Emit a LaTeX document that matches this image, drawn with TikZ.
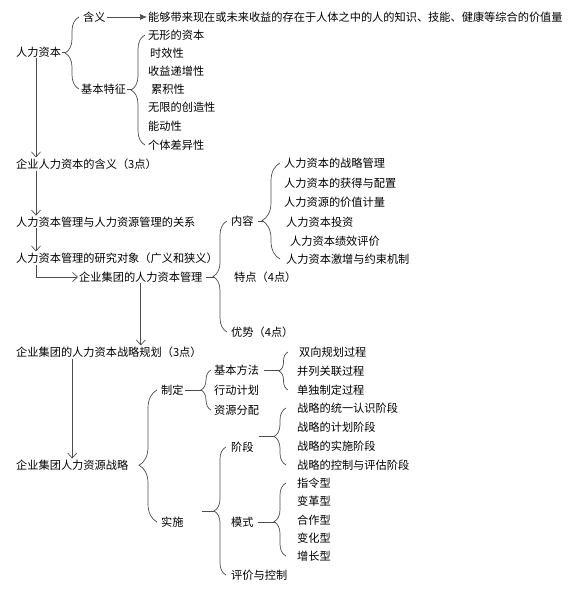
\documentclass[tikz,border=0pt]{standalone}
\usepackage{fontspec}
\setmainfont{Noto Sans CJK SC}
\usetikzlibrary{arrows.meta}
\usetikzlibrary{decorations.pathreplacing}
\definecolor{lgray}{rgb}{0.3, 0.3, 0.3}
\tikzset{txt/.style = {anchor=west, inner sep=1pt, font=\fontsize{11.2}{13}\selectfont}}
\tikzset{ln/.style = {draw=lgray, line width=0.7pt}}
\tikzset{arr/.style = {ln, -{Straight Barb[length=5pt, width=9pt]}}}
\tikzset{darr/.style = {ln, -{Latex[length=7pt, width=6pt]}}}
\tikzset{brc/.style = {ln, decorate, decoration={brace, amplitude=#1}}, brc/.default=9pt}

\begin{document}
\begin{tikzpicture}[x=1pt, y=-1pt]
    \useasboundingbox (0, 0) rectangle (583, 593);

    % columns for the main arrows and the braces
    \coordinate (ax) at (36, 0);
    \foreach \n/\x in {b1/79, b2/145, b3/227, b4/280, b5/157, b6/211, b7/288, b8/226, b9/286, b10/286}
        \coordinate (\n) at (\x, 0);

    \node [txt] (hc) at (15, 52) {人力资本};
    \node [txt] (hy) at (82, 17) {含义};
    \node [txt] (dy) at (147, 17) {能够带来现在或未来收益的存在于人体之中的人的知识、技能、健康等综合的价值量};
    \node [txt] (tz) at (80, 89) {基本特征};
    \foreach \i/\x/\y/\s in {1/147/35/无形的资本, 2/149/53/时效性, 3/147/71/收益递增性, 4/150/89/累积性,
                             5/147/107/无限的创造性, 6/147/126/能动性, 7/147/145/个体差异性}
        \node [txt] (t\i) at (\x, \y) {\s};

    \node [txt] (qhy) at (15, 164) {企业人力资本的含义（3点）};
    \node [txt] (gx) at (15, 222) {人力资本管理与人力资源管理的关系};
    \node [txt] (yj) at (15, 258) {人力资本管理的研究对象（广义和狭义）};
    \node [txt] (jg) at (78, 277) {企业集团的人力资本管理};
    \node [txt] (nr) at (230, 221) {内容};
    \node [txt] (td) at (233, 277) {特点（4点）};
    \node [txt] (ys) at (230, 332) {优势（4点）};
    \foreach \i/\x/\y/\s in {1/283/163/人力资本的战略管理, 2/283/183/人力资本的获得与配置, 3/283/202/人力资源的价值计量,
                             4/285/222/人力资本投资, 5/289/241/人力资本绩效评价, 6/285/259/人力资本激增与约束机制}
        \node [txt] (n\i) at (\x, \y) {\s};

    \node [txt] (gh) at (15, 352) {企业集团的人力资本战略规划（3点）};
    \node [txt] (zl) at (15, 465) {企业集团人力资源战略};
    \node [txt] (zd) at (160, 390) {制定};
    \node [txt] (ss) at (160, 522) {实施};
    \foreach \i/\y/\s in {1/370/基本方法, 2/390/行动计划, 3/410/资源分配}
        \node [txt] (f\i) at (213, \y) {\s};
    \foreach \i/\x/\y/\s in {1/298/352/双向规划过程, 2/296/371/并列关联过程, 3/296/390/单独制定过程}
        \node [txt] (g\i) at (\x, \y) {\s};
    \node [txt] (jd) at (230, 447) {阶段};
    \node [txt] (ms) at (230, 522) {模式};
    \node [txt] (pj) at (230, 575) {评价与控制};
    \foreach \i/\y/\s in {1/408/战略的统一认识阶段, 2/427/战略的计划阶段, 3/446/战略的实施阶段, 4/465/战略的控制与评估阶段}
        \node [txt] (j\i) at (296, \y) {\s};
    \foreach \i/\y/\s in {1/483/指令型, 2/501/变革型, 3/520/合作型, 4/538/变化型, 5/556/增长型}
        \node [txt] (m\i) at (296, \y) {\s};

    % arrows
    \draw [darr] (hy) -- (dy);
    \draw [arr] (hc.south -| ax) -- (qhy.north -| ax);
    \draw [arr] (qhy.south -| ax) -- (gx.north -| ax);
    \draw [arr] (gx.south -| ax) -- (yj.north -| ax);
    \draw [arr] (yj.south -| ax) |- (jg.west);
    \draw [arr] (jg.south) -- (jg.south |- gh.north);
    \draw [arr] (gh.south -| zl.north) -- (zl.north);

    % braces
    \draw [brc=14pt] (b1 |- tz.west) -- (b1 |- hy.west);
    \draw [ln] (hc.east) -- ++(3, 0);
    \draw [brc=14pt] (b2 |- t7.west) -- (b2 |- t1.west);
    \draw [ln] (tz.east) -- ++(5, 0);
    \draw [brc=14pt] (b3 |- ys.west) -- (b3 |- nr.west);
    \draw [ln] (jg.east) ++(2, 0) -- ++(9, 0);
    \draw [brc=18pt, decoration={aspect=.4}] (b4 |- n6.west) -- (b4 |- n1.west);
    \draw [ln] (nr.east) ++(3, 0) -- ++(6, 0);
    \draw [brc=18pt, decoration={aspect=.43}] (b5 |- ss.west) -- (b5 |- zd.west);
    \draw [brc=10pt] (b6 |- f3.west) -- (b6 |- f1.west);
    \draw [ln] (zd.east) -- ++(17, 0);
    \draw [brc] (b7 |- g3.west) -- (b7 |- g1.west);
    \draw [ln] (f1.east) ++(4, 0) -- ++(16, 0);
    \draw [brc=12pt] (b8 |- pj.west) -- (b8 |- jd.west);
    \coordinate (d8) at (202, 511);
    \draw [ln] (d8) -- ++(12, 0);
    \draw [brc=12pt] (b9 |- j4.west) -- (b9 |- j1.west);
    \coordinate (d9) at (259, 436);
    \draw [ln] (d9) -- ++(15, 0);
    \draw [brc=12pt, decoration={aspect=.47}] (b10 |- m5.west) -- (b10 |- m1.west);
    \draw [ln] (ms.east) ++(3, 0) -- ++(18, 0);
\end{tikzpicture}
\end{document}
